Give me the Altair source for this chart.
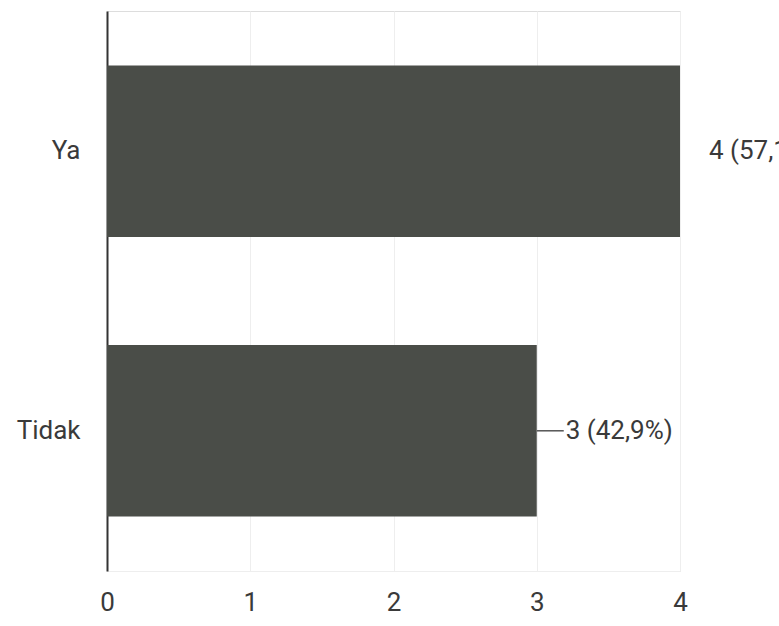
import altair as alt
import pandas as pd

categories = ["Ya", "Tidak"]
counts = [4, 3]
labels = ["4 (57,1%)", "3 (42,9%)"]

df = pd.DataFrame({"kategori": categories, "jumlah": counts, "label": labels})

FONT = "Roboto"
TXT = "#3a3a3a"

y_enc = alt.Y(
    "kategori:N",
    sort=categories,
    title=None,
    scale=alt.Scale(paddingInner=0.387, paddingOuter=0.195),
    axis=alt.Axis(
        domain=True, domainColor="#333333", domainWidth=2,
        ticks=False, grid=False,
        labelFont=FONT, labelFontSize=26, labelColor=TXT, labelPadding=27,
    ),
)
x_enc = alt.X(
    "jumlah:Q",
    title=None,
    scale=alt.Scale(domain=[0, 4], nice=False),
    axis=alt.Axis(
        values=[0, 1, 2, 3, 4], format="d", labelFlush=False,
        domain=True, domainColor="#eeeeee", domainWidth=1,
        ticks=False, grid=True, gridColor="#eeeeee", gridWidth=1,
        labelFont=FONT, labelFontSize=26, labelColor=TXT, labelPadding=18,
    ),
)

bars = alt.Chart(df).mark_bar(color="#4a4d48", cornerRadius=0).encode(x=x_enc, y=y_enc)

leader = alt.Chart(df).transform_filter(
    "datum.kategori == 'Tidak'"
).mark_rule(color="#555555", strokeWidth=1.5, x2Offset=27).encode(
    x=alt.X("jumlah:Q"), x2="jumlah:Q", y=alt.Y("kategori:N", sort=categories)
)

text = alt.Chart(df).mark_text(
    align="left", baseline="middle", dx=29, font=FONT, fontSize=26, color=TXT
).encode(
    x=alt.X("jumlah:Q"), y=alt.Y("kategori:N", sort=categories), text="label:N"
)

chart = alt.layer(bars, leader, text).properties(
    width=573,
    height=560,
    autosize=alt.AutoSizeParams(type="none"),
    padding={"left": 107, "top": 11, "right": 99, "bottom": 53},
).configure_view(stroke=None).configure(background="white")

chart.save("out.html", embed_options={"renderer": "svg", "actions": False})
